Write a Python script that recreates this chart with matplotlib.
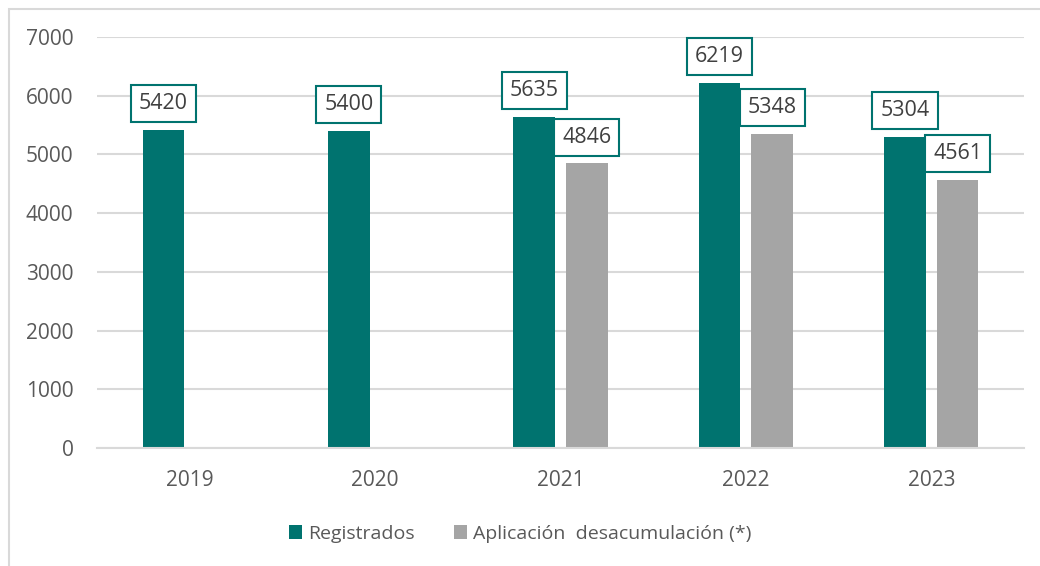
import numpy as np
import matplotlib
matplotlib.use('Agg')
import matplotlib.pyplot as plt
from matplotlib.patches import Rectangle

# DATA
years = ['2019', '2020', '2021', '2022', '2023']
registrados = [5420, 5400, 5635, 6219, 5304]
desacumulacion = [None, None, 4846, 5348, 4561]
labels = ['Registrados', 'Aplicación  desacumulación (*)']
yticks = [0, 1000, 2000, 3000, 4000, 5000, 6000, 7000]

teal = '#00736F'
grey = '#A5A5A5'
txt = '#595959'
line = '#D9D9D9'

plt.rcParams['font.family'] = ['Open Sans', 'DejaVu Sans']

fig = plt.figure(figsize=(10.4, 5.66), dpi=100)
ax = fig.add_axes([97/1040, 1 - 448/566, 927/1040, 411/566])

# outer frame (only top and left visible)
fig.patches.append(Rectangle((9/1040, -0.1), 1.2, 1 - 9/566 + 0.1, transform=fig.transFigure,
                             fill=False, edgecolor=line, linewidth=1.5, zorder=0))

x = np.arange(len(years))
w = 0.224
off = 0.142

reg_bars = ax.bar(x - off, registrados, w, color=teal, label=labels[0], zorder=2)
dx = [i for i, v in zip(x, desacumulacion) if v is not None]
dv = [v for v in desacumulacion if v is not None]
des_bars = ax.bar(np.array(dx) + off, dv, w, color=grey, label=labels[1], zorder=2)

box = dict(boxstyle='square,pad=0.37', facecolor='white', edgecolor=teal, linewidth=1.5)
for bars in (reg_bars, des_bars):
    for b in bars:
        h = b.get_height()
        ax.annotate(f'{int(h)}', (b.get_x() + b.get_width() / 2, h), xytext=(0, 19),
                    textcoords='offset points', ha='center', va='center',
                    fontsize=15.5, color='#404040', bbox=box, zorder=5)

ax.set_xlim(-0.5, len(years) - 0.5)
ax.set_ylim(0, 7000)
ax.set_yticks(yticks)
ax.set_xticks(x)
ax.set_xticklabels(years)
ax.yaxis.grid(True, color=line, linewidth=1.5, zorder=0)
ax.set_axisbelow(True)
for s in ['top', 'right', 'left']:
    ax.spines[s].set_visible(False)
ax.spines['bottom'].set_color(line)
ax.spines['bottom'].set_linewidth(1.5)
ax.tick_params(axis='both', length=0, labelsize=15, labelcolor=txt)
ax.tick_params(axis='y', pad=17)
ax.tick_params(axis='x', pad=16)

ax.legend(loc='center', bbox_to_anchor=(0.5, (566 - 534) / 566), bbox_transform=fig.transFigure,
          ncol=2, frameon=False, fontsize=14, labelcolor=txt, handlelength=0.7, handleheight=0.7,
          handletextpad=0.3, columnspacing=2.0)

plt.savefig('out.png', dpi=100)
